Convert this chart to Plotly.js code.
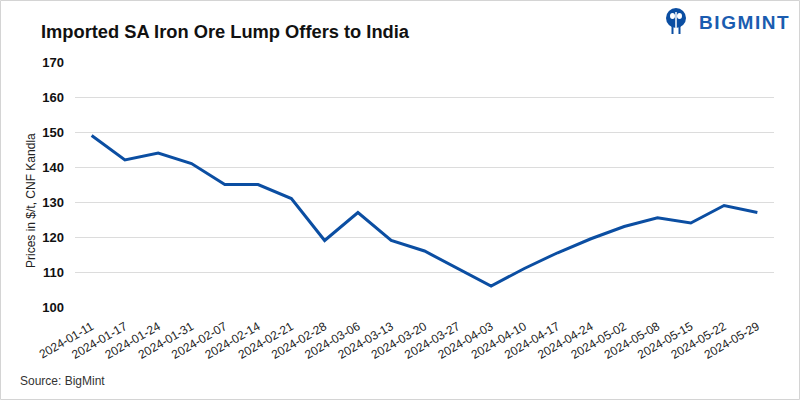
<!DOCTYPE html>
<html>
<head>
<meta charset="utf-8">
<script src="https://cdn.plot.ly/plotly-3.0.1.min.js"></script>
<style>
  html, body { margin: 0; padding: 0; background: #fff; }
  #chart { width: 800px; height: 400px; }
</style>
</head>
<body>
<div id="chart"></div>
<script>
  var dates = ['2024-01-11', '2024-01-17', '2024-01-24', '2024-01-31', '2024-02-07',
               '2024-02-14', '2024-02-21', '2024-02-28', '2024-03-06', '2024-03-13',
               '2024-03-20', '2024-03-27', '2024-04-03', '2024-04-10', '2024-04-17',
               '2024-04-24', '2024-05-02', '2024-05-08', '2024-05-15', '2024-05-22',
               '2024-05-29'];
  var prices = [149, 142, 144, 141, 135, 135, 131, 119, 127, 119,
                116, 111, 106, 111, 115.5, 119.5, 123, 125.5, 124, 129,
                127];
  var yTicks = [100, 110, 120, 130, 140, 150, 160, 170];

  var blue = '#0b4ea2';

  // margins chosen so the plot area sits at x 75..774, y 62..307
  var m = {l: 75, r: 26, t: 62, b: 93};
  var pw = 800 - m.l - m.r, ph = 400 - m.t - m.b;
  function px(x) { return (x - m.l) / pw; }
  function py(y) { return (m.t + ph - y) / ph; }

  var data = [{
    x: dates,
    y: prices,
    type: 'scatter',
    mode: 'lines',
    line: {color: blue, width: 3},
    hoverinfo: 'x+y'
  }];

  var layout = {
    width: 800,
    height: 400,
    margin: m,
    paper_bgcolor: '#fff',
    plot_bgcolor: '#fff',
    showlegend: false,
    font: {family: 'Liberation Sans, Arial, sans-serif', color: '#222'},
    xaxis: {
      type: 'category',
      range: [-0.5, dates.length - 0.5],
      tickangle: -30,
      tickfont: {size: 12, color: '#222'},
      showgrid: false,
      zeroline: false,
      showline: false,
      ticks: 'outside',
      ticklen: 7,
      tickcolor: 'rgba(0,0,0,0)'
    },
    yaxis: {
      range: [100, 170],
      tickvals: yTicks,
      tickfont: {size: 13, color: '#111', weight: 'bold'},
      showgrid: true,
      gridcolor: '#dcdcdc',
      gridwidth: 1,
      zeroline: false,
      showline: false,
      ticklabelstandoff: 10
    },
    annotations: [
      {
        text: 'Imported SA Iron Ore Lump Offers to India',
        xref: 'paper', yref: 'paper', x: px(39), y: py(31),
        xanchor: 'left', yanchor: 'middle', showarrow: false,
        font: {family: 'Liberation Sans, Arial, sans-serif', size: 18.3, weight: 'bold', color: '#111'}
      },
      {
        text: 'B\u200aI\u200aG\u200aM\u200aI\u200aN\u200aT',
        xref: 'paper', yref: 'paper', x: px(697), y: py(22),
        xanchor: 'left', yanchor: 'middle', showarrow: false,
        font: {family: 'Liberation Sans, Arial, sans-serif', size: 19, weight: 'bold', color: '#1a5cb0'}
      },
      {
        text: 'Prices in $/t, CNF Kandla',
        xref: 'paper', yref: 'paper', x: px(22), y: py(201),
        textangle: -90, showarrow: false,
        font: {size: 12, color: '#222'}
      },
      {
        text: 'Source: BigMint',
        xref: 'paper', yref: 'paper', x: px(18), y: py(381),
        xanchor: 'left', yanchor: 'middle', showarrow: false,
        font: {size: 12, color: '#333'}
      }
    ],
    shapes: [
      // outer border
      {type: 'rect', xref: 'paper', yref: 'paper',
       x0: px(0.5), x1: px(799.5), y0: py(399.5), y1: py(0.5),
       line: {color: '#d4d4d4', width: 1}},
      // logo mark: ring with two heads and legs
      {type: 'circle', xref: 'paper', yref: 'paper',
       x0: px(666), x1: px(686), y0: py(28), y1: py(8),
       fillcolor: blue, line: {width: 0}},
      {type: 'circle', xref: 'paper', yref: 'paper',
       x0: px(670), x1: px(675), y0: py(19), y1: py(13),
       fillcolor: '#fff', line: {width: 0}},
      {type: 'circle', xref: 'paper', yref: 'paper',
       x0: px(677), x1: px(682), y0: py(19), y1: py(13),
       fillcolor: '#fff', line: {width: 0}},
      {type: 'line', xref: 'paper', yref: 'paper',
       x0: px(676), x1: px(676), y0: py(34), y1: py(12),
       line: {color: '#fff', width: 1.5}},
      {type: 'line', xref: 'paper', yref: 'paper',
       x0: px(672.5), x1: px(672.5), y0: py(34), y1: py(22),
       line: {color: blue, width: 2}},
      {type: 'line', xref: 'paper', yref: 'paper',
       x0: px(679.5), x1: px(679.5), y0: py(34), y1: py(22),
       line: {color: blue, width: 2}}
    ]
  };

  Plotly.newPlot('chart', data, layout, {displayModeBar: false, responsive: false});
</script>
</body>
</html>
